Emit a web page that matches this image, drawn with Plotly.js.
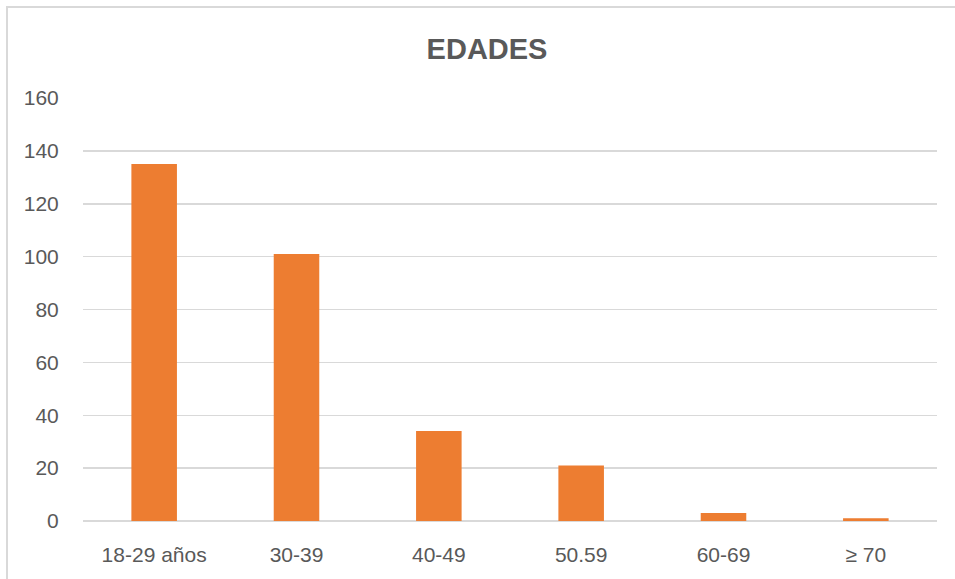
<!DOCTYPE html>
<html>
<head>
<meta charset="utf-8">
<script src="https://cdn.plot.ly/plotly-3.0.1.min.js"></script>
<style>
html,body{margin:0;padding:0;overflow:hidden;background:#fff;width:955px;height:579px;}
#frame{position:absolute;left:6px;top:6px;width:1000px;height:1000px;border:2px solid #d9d9d9;box-sizing:border-box;}
#chart{position:absolute;left:0;top:0;width:955px;height:579px;}
</style>
</head>
<body>
<div id="frame"></div>
<div id="chart"></div>
<script>
const categories = ["18-29 años", "30-39", "40-49", "50.59", "60-69", "≥ 70"];
const values = [135, 101, 34, 21, 3, 1];
const yTicks = [0, 20, 40, 60, 80, 100, 120, 140, 160];

const trace = {
  type: "bar",
  x: categories,
  y: values,
  marker: {color: "#ED7D31"},
  hoverinfo: "x+y"
};

const layout = {
  width: 955,
  height: 579,
  margin: {l: 83, r: 18, t: 98, b: 58},
  paper_bgcolor: "rgba(0,0,0,0)",
  plot_bgcolor: "rgba(0,0,0,0)",
  bargap: 0.68,
  showlegend: false,
  title: {
    text: "<b>EDADES</b>",
    x: 0.51, xref: "container", xanchor: "center",
    y: 47, yref: "container", yanchor: "middle",
    font: {family: "Liberation Sans, Arial, sans-serif", size: 29, color: "#595959"}
  },
  xaxis: {
    type: "category",
    showgrid: false,
    showline: false,
    zeroline: false,
    ticks: "outside",
    ticklen: 15,
    tickcolor: "rgba(0,0,0,0)",
    tickfont: {family: "Liberation Sans, Arial, sans-serif", size: 21, color: "#595959"}
  },
  yaxis: {
    range: [0, 160],
    tickmode: "array",
    tickvals: yTicks,
    ticktext: yTicks.map(String),
    showgrid: true,
    gridcolor: "#d9d9d9",
    gridwidth: 1.5,
    zeroline: true,
    zerolinecolor: "#d9d9d9",
    zerolinewidth: 1.5,
    showline: false,
    ticks: "outside",
    ticklen: 19,
    tickcolor: "rgba(0,0,0,0)",
    tickfont: {family: "Liberation Sans, Arial, sans-serif", size: 21, color: "#595959"}
  }
};

Plotly.newPlot("chart", [trace], layout, {displayModeBar: false, staticPlot: true});
</script>
</body>
</html>
